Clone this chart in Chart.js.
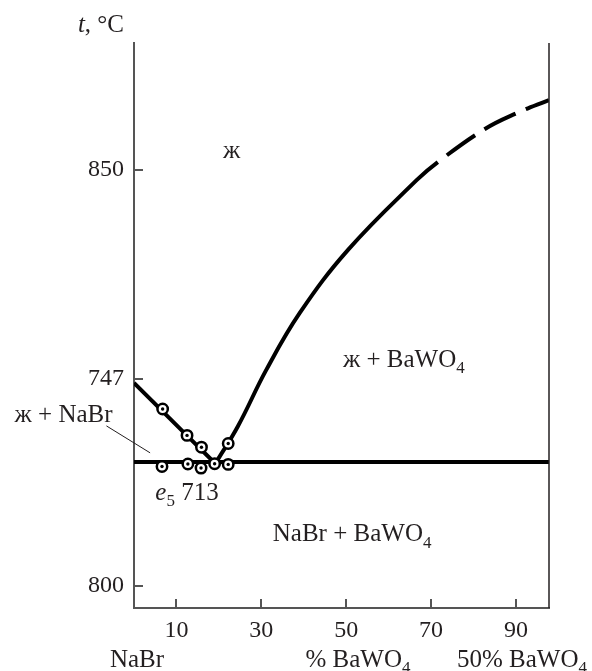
<!DOCTYPE html>
<html>
<head>
<meta charset="utf-8">
<script src="https://cdn.jsdelivr.net/npm/chart.js@4.4.0/dist/chart.umd.min.js"></script>
<style>
  html, body { margin: 0; padding: 0; background: #fff; }
  canvas { display: block; }
</style>
</head>
<body>
<canvas id="phase" width="592" height="671"></canvas>
<script>
// NaBr - BaWO4 phase diagram (x: % BaWO4, y: t, °C)
const X_TICKS = [10, 30, 50, 70, 90];
const Y_TICKS = [645, 747, 850];
const Y_TICK_LABELS = ['800', '747', '850'];

// liquidus branches
const LIQ_NABR = [[0, 745], [12.5, 719], [18.8, 706]];
const LIQ_BAWO4 = [[19.43, 706.1], [24.46, 723.5], [31.17, 751.4], [39.03, 779.4],
                   [50.44, 810.6], [66.66, 845.1], [71.6, 853.9],
                   [82.7, 870.2], [90.3, 878.1], [97.8, 884.5]];
const DASH_FROM_X = 71.6; // curve is dashed beyond this composition

// eutectic horizontal
const EUTECTIC_T = 706;
const X_MAX = 97.8;

// measured points
const POINTS = [[6.75, 732.1], [12.5, 719.1], [15.9, 713.3], [22.2, 715.1],
                [6.6, 703.8], [12.7, 705.0], [15.8, 703.0], [19.0, 705.1], [22.2, 704.8]];

const INK = '#231f20';
const SERIF = '"Liberation Serif", "DejaVu Serif", serif';

const toXY = arr => arr.map(([x, y]) => ({ x, y }));

// region labels, placed in data units (centre x, baseline t)
const REGION_LABELS = [
    { parts: [['ж', '']], x: 23.0, t: 855.9 },
    { parts: [['ж + BaWO', ''], ['4', 's']], x: 63.6, t: 752.9 },
    { parts: [['NaBr + BaWO', ''], ['4', 's']], x: 51.4, t: 666.8 },
    { parts: [['e', 'i'], ['5', 's'], [' 713', '']], x: 12.5, t: 687.4 },
    { parts: [['ж + NaBr', '']], x: -16.6, t: 725.8 },
];
const LEADER = [[-6.5, 723.8], [3.8, 710.5]];

function drawRich(ctx, parts, x, y, size, align) {
    const fontFor = k => (k === 'i' ? 'italic ' : '') + (k === 's' ? Math.round(size * 0.68) : size) + 'px ' + SERIF;
    let w = 0;
    parts.forEach(([t, k]) => { ctx.font = fontFor(k); w += ctx.measureText(t).width; });
    let cx = align === 'center' ? x - w / 2 : align === 'right' ? x - w : x;
    ctx.textBaseline = 'alphabetic';
    ctx.textAlign = 'left';
    parts.forEach(([t, k]) => {
        ctx.font = fontFor(k);
        ctx.fillText(t, cx, y + (k === 's' ? size * 0.25 : 0));
        cx += ctx.measureText(t).width;
    });
}

const decor = {
    id: 'decor',
    afterDraw(chart) {
        const { ctx, chartArea: a, scales: { x, y } } = chart;
        ctx.save();
        // right frame
        ctx.strokeStyle = INK;
        ctx.lineWidth = 1.5;
        ctx.beginPath();
        ctx.moveTo(a.right, a.top);
        ctx.lineTo(a.right, a.bottom);
        ctx.stroke();
        // inward ticks
        ctx.strokeStyle = '#555';
        ctx.lineWidth = 2;
        ctx.beginPath();
        Y_TICKS.forEach(v => {
            const py = Math.round(y.getPixelForValue(v));
            ctx.moveTo(a.left, py);
            ctx.lineTo(a.left + 9, py);
        });
        X_TICKS.forEach(v => {
            const px = Math.round(x.getPixelForValue(v));
            ctx.moveTo(px, a.bottom);
            ctx.lineTo(px, a.bottom - 9);
        });
        ctx.stroke();
        // leader line for "ж + NaBr"
        ctx.strokeStyle = INK;
        ctx.lineWidth = 1;
        ctx.beginPath();
        ctx.moveTo(x.getPixelForValue(LEADER[0][0]), y.getPixelForValue(LEADER[0][1]));
        ctx.lineTo(x.getPixelForValue(LEADER[1][0]), y.getPixelForValue(LEADER[1][1]));
        ctx.stroke();
        // labels
        ctx.fillStyle = INK;
        REGION_LABELS.forEach(l => {
            drawRich(ctx, l.parts, x.getPixelForValue(l.x), y.getPixelForValue(l.t), 25, 'center');
        });
        // axis titles
        drawRich(ctx, [['t', 'i'], [', °C', '']], a.left - 10, 32, 25, 'right');
        drawRich(ctx, [['NaBr', '']], 137, 667, 25, 'center');
        drawRich(ctx, [['% BaWO', ''], ['4', 's']], 358, 667, 25, 'center');
        drawRich(ctx, [['50% BaWO', ''], ['4', 's']], 522, 667, 25, 'center');
        ctx.restore();
    }
};

const lineStyle = { borderColor: '#000', borderWidth: 4, pointRadius: 0, fill: false, showLine: true };
const dashed = c => c.p0.parsed.x >= DASH_FROM_X;

new Chart(document.getElementById('phase'), {
    type: 'scatter',
    data: {
        datasets: [
            { data: toXY(POINTS), pointRadius: 1.7, pointBackgroundColor: '#000', pointBorderWidth: 0, order: 0 },
            { data: toXY(POINTS), pointRadius: 5.2, pointBorderWidth: 2.5, pointBorderColor: '#000',
              pointBackgroundColor: '#fff', order: 1 },
            { ...lineStyle, data: toXY(LIQ_NABR), order: 2 },
            { ...lineStyle, data: toXY(LIQ_BAWO4), tension: 0.4, order: 2,
              segment: {
                  borderDash: c => dashed(c) ? [35, 11] : undefined,
                  borderDashOffset: c => dashed(c) ? 35 : undefined,
              } },
            { ...lineStyle, data: [{ x: 0, y: EUTECTIC_T }, { x: X_MAX, y: EUTECTIC_T }], order: 2 },
        ],
    },
    options: {
        responsive: false,
        animation: false,
        events: [],
        layout: { padding: { top: 43, right: 43, left: 0, bottom: 0 } },
        plugins: { legend: { display: false }, tooltip: { enabled: false } },
        scales: {
            x: {
                type: 'linear', min: 0, max: X_MAX,
                afterBuildTicks: s => { s.ticks = X_TICKS.map(v => ({ value: v })); },
                afterFit: s => { s.height = 63; },
                grid: { display: false, drawTicks: false },
                border: { color: '#555', width: 2 },
                ticks: { font: { family: SERIF, size: 24 }, color: INK, padding: 8, maxRotation: 0 },
            },
            y: {
                type: 'linear', min: 634, max: 912.6,
                afterBuildTicks: s => { s.ticks = Y_TICKS.map(v => ({ value: v })); },
                afterFit: s => { s.width = 134; },
                grid: { display: false, drawTicks: false },
                border: { color: '#555', width: 2 },
                ticks: {
                    font: { family: SERIF, size: 24 }, color: INK, padding: 10,
                    callback: v => Y_TICK_LABELS[Y_TICKS.indexOf(v)],
                },
            },
        },
    },
    plugins: [decor],
});
</script>
</body>
</html>
